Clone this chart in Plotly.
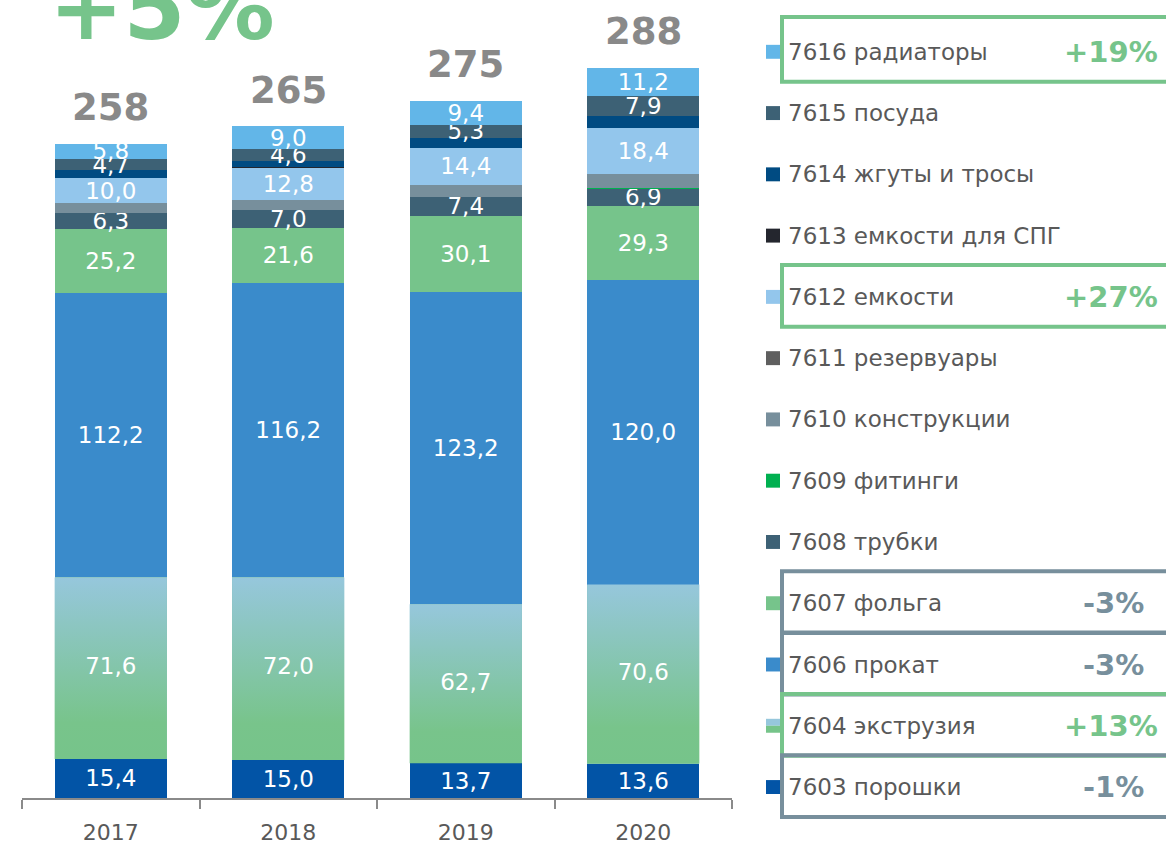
import plotly.graph_objects as go

# данные (как на исходном слайде)
years = ["2017", "2018", "2019", "2020"]
totals = [258, 265, 275, 288]
growth_total = "+5%"

p7603 = [15.4, 15.0, 13.7, 13.6]
p7604 = [71.6, 72.0, 62.7, 70.6]
p7606 = [112.2, 116.2, 123.2, 120.0]
p7607 = [25.2, 21.6, 30.1, 29.3]
p7608 = [6.3, 7.0, 7.4, 6.9]
p7609 = [0.0, 0.0, 0.0, 0.2]
p7610 = [3.9, 3.9, 4.8, 5.4]
p7611 = [0.0, 0.0, 0.0, 0.0]
p7612 = [10.0, 12.8, 14.4, 18.4]
p7613 = [0.0, 0.3, 0.0, 0.0]
p7614 = [2.9, 2.6, 4.0, 4.5]
p7615 = [4.7, 4.6, 5.3, 7.9]
p7616 = [5.8, 9.0, 9.4, 11.2]

# изменение 2020 к 2019 для выделенных групп
hl_names = ["7616", "7612", "7607", "7606", "7604", "7603"]
hl_text = ["+19%", "+27%", "-3%", "-3%", "+13%", "-1%"]

GREEN = "#76C48B"
SLATE = "#778F9C"
TEXT = "#595959"
FONT = "DejaVu Sans"
GRAD = [[0, "#76C48A"], [0.2, "#78C48B"], [1, "#96C7DC"]]

# снизу вверх: код, подпись, значения, цвет, показывать ли число
series = [
    ("7603", "7603 порошки", p7603, "#0254A6", True),
    ("7604", "7604 экструзия", p7604, None, True),
    ("7606", "7606 прокат", p7606, "#3A8BCB", True),
    ("7607", "7607 фольга", p7607, GREEN, True),
    ("7608", "7608 трубки", p7608, "#3D6175", True),
    ("7609", "7609 фитинги", p7609, "#00B050", False),
    ("7610", "7610 конструкции", p7610, "#778F9C", False),
    ("7611", "7611 резервуары", p7611, "#5F5F5F", False),
    ("7612", "7612 емкости", p7612, "#93C6EC", True),
    ("7613", "7613 емкости для СПГ", p7613, "#24262E", False),
    ("7614", "7614 жгуты и тросы", p7614, "#004B82", False),
    ("7615", "7615 посуда", p7615, "#3D6175", True),
    ("7616", "7616 радиаторы", p7616, "#62B6E8", True),
]

W, H = 1166, 845
L, R, T, B = 22, 434, 0, 44
PW, PH = W - L - R, H - T - B
BAR_W = 0.632
Y_MAX = 801 / 2.545


def px_x(px):
    return (px - L) / PW


def px_y(py):
    return (H - B - py) / PH


def fmt(v):
    return f"{v:.1f}".replace(".", ",")


fig = go.Figure()
xs = list(range(len(years)))

for code, name, vals, color, labelled in series:
    fig.add_trace(go.Bar(
        x=xs, y=vals, width=BAR_W, name=name,
        # под градиентом — средний тон, чтобы не было светлых швов
        marker=dict(color=color or "#86C5B3", line=dict(width=0)),
        text=[fmt(v) if labelled and code != "7604" else "" for v in vals],
        textposition="inside", insidetextanchor="middle", textangle=0,
        constraintext="none",
        textfont=dict(family=FONT, size=23, color="white"),
        showlegend=False, hoverinfo="skip",
    ))

# экструзия — градиентная заливка поверх сегмента
for i in xs:
    b, t = p7603[i], p7603[i] + p7604[i]
    fig.add_trace(go.Scatter(
        x=[i - BAR_W / 2, i + BAR_W / 2, i + BAR_W / 2, i - BAR_W / 2, i - BAR_W / 2],
        y=[b, b, t, t, b],
        mode="lines", line=dict(width=0), fill="toself",
        fillgradient=dict(type="vertical", colorscale=GRAD),
        showlegend=False, hoverinfo="skip",
    ))
fig.add_trace(go.Scatter(
    x=xs, y=[a + c / 2 for a, c in zip(p7603, p7604)],
    mode="text", text=[fmt(v) for v in p7604],
    textfont=dict(family=FONT, size=23, color="white"),
    showlegend=False, hoverinfo="skip",
))

# итоги над столбцами
for i, tot in enumerate(totals):
    fig.add_annotation(
        x=i, y=tot, xref="x", yref="y", text=f"<b>{tot}</b>",
        showarrow=False, yanchor="middle", yshift=36,
        font=dict(family=FONT, size=37, color="#898989"),
    )

fig.add_annotation(
    x=px_x(162), y=px_y(8), xref="paper", yref="paper",
    text=f"<b>{growth_total}</b>", showarrow=False,
    xanchor="center", yanchor="middle",
    font=dict(family=FONT, size=89, color=GREEN),
)

# легенда вручную
for k, (code, name, vals, color, labelled) in enumerate(reversed(series)):
    yc = 52 + 61.5 * k
    if color is None:
        fig.add_shape(type="rect", xref="paper", yref="paper",
                      x0=px_x(766), x1=px_x(780), y0=px_y(yc - 7), y1=px_y(yc),
                      fillcolor="#96C7DC", line_width=0)
        fig.add_shape(type="rect", xref="paper", yref="paper",
                      x0=px_x(766), x1=px_x(780), y0=px_y(yc), y1=px_y(yc + 7),
                      fillcolor="#76C48A", line_width=0)
    else:
        fig.add_shape(type="rect", xref="paper", yref="paper",
                      x0=px_x(766), x1=px_x(780), y0=px_y(yc - 7), y1=px_y(yc + 7),
                      fillcolor=color, line_width=0)
    fig.add_annotation(
        x=px_x(786), y=px_y(yc), xref="paper", yref="paper", text=name,
        showarrow=False, xanchor="left", yanchor="middle",
        font=dict(family=FONT, size=23, color=TEXT),
    )
    if code in hl_names:
        txt = hl_text[hl_names.index(code)]
        col = GREEN if txt.startswith("+") else SLATE
        right = 1160 if col == GREEN else 1146
        top = 35 if k == 0 else 32
        fig.add_shape(type="rect", xref="paper", yref="paper",
                      x0=px_x(782), x1=px_x(1190),
                      y0=px_y(yc - top), y1=px_y(yc + 30),
                      line=dict(color=col, width=4), fillcolor="rgba(0,0,0,0)")
        fig.add_annotation(
            x=px_x(right), y=px_y(yc), xref="paper", yref="paper",
            text=f"<b>{txt}</b>", showarrow=False,
            xanchor="right", yanchor="middle",
            font=dict(family=FONT, size=29, color=col),
        )

fig.update_layout(
    width=W, height=H,
    barmode="stack",
    plot_bgcolor="white", paper_bgcolor="white",
    margin=dict(l=L, r=R, t=T, b=B),
    showlegend=False,
    xaxis=dict(
        range=[-0.5, 3.5], tickvals=xs, ticktext=years, ticks="",
        showgrid=False, zeroline=False,
        showline=True, linecolor="#8A8A8A", linewidth=2,
        tickfont=dict(family=FONT, size=22, color=TEXT),
        ticklabelstandoff=14,
        minor=dict(tickmode="array", tickvals=[-0.5, 0.5, 1.5, 2.5, 3.5],
                   ticks="outside", ticklen=9, tickwidth=2, tickcolor="#8A8A8A",
                   showgrid=False),
    ),
    yaxis=dict(range=[0, Y_MAX], visible=False),
)

# убираем стандартный отступ body, чтобы рисунок лёг ровно в окно
fig.write_html(
    "out.html",
    config={"displayModeBar": False},
    post_script="document.body.style.margin='0';document.body.style.overflow='hidden';",
)
